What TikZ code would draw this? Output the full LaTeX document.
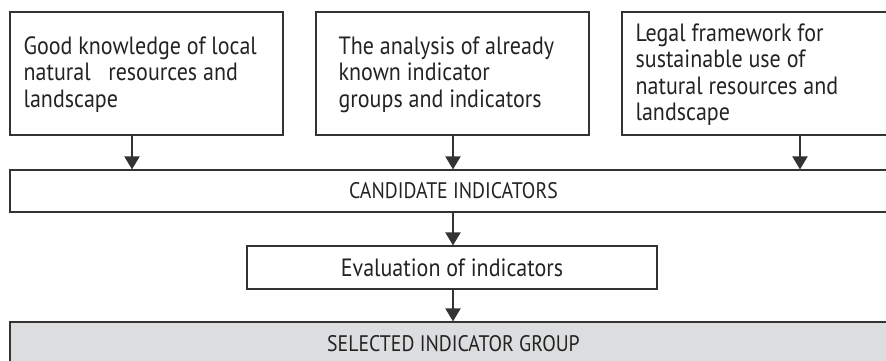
\documentclass[tikz,border=0pt]{standalone}
\usepackage{fontspec}
\setmainfont{PT Sans}[FakeStretch=0.88]
\usetikzlibrary{arrows.meta}
\definecolor{edge}{HTML}{333333}
\definecolor{ink}{HTML}{232323}
\definecolor{selfill}{HTML}{DCDDDF}
\tikzset{
  box/.style={draw=edge, line width=1.1pt, rectangle, inner sep=0pt},
  txt/.style={text=ink, align=left, inner sep=0pt, font=\fontsize{25}{26.4}\selectfont},
  captxt/.style={text=ink, inner sep=0pt, font=\fontsize{22.5}{24}\selectfont},
  arr/.style={draw=edge, line width=2pt, -{Triangle[length=13pt,width=15pt]}}
}
\begin{document}
\begin{tikzpicture}[x=1pt,y=1pt]
\useasboundingbox (0,0) rectangle (886,360);
% top boxes
\node[box, minimum width=273, minimum height=123] (b1) at (146.5,286.5) {};
\node[box, minimum width=273, minimum height=123] (b2) at (452.5,286.5) {};
\node[box, minimum width=280, minimum height=123] (b3) at (762,286.5) {};
\node[txt, anchor=west] (t1) at ([xshift=14,yshift=-1]b1.west) {Good knowledge of local\\natural\ \ \ resources and\\landscape};
\node[txt, anchor=west] (t2) at ([xshift=23,yshift=-1]b2.west) {The analysis of already\\known indicator\\groups and indicators};
\node[txt, anchor=west] (t3) at ([xshift=14,yshift=-1]b3.west) {Legal framework for\\sustainable use of\\natural resources and\\landscape};
% candidate
\node[box, minimum width=887, minimum height=42] (cand) at (453.5,169) {};
\node[captxt] (ct) at (cand.center) {CANDIDATE INDICATORS};
% evaluation
\node[box, minimum width=410, minimum height=43] (ev) at (452,92.5) {};
\node[txt] (et) at (ev.center) {Evaluation of indicators};
% selected
\node[box, fill=selfill, minimum width=887, minimum height=43] (sel) at (453.5,16.5) {};
\node[captxt] (st) at (sel.center) {SELECTED INDICATOR GROUP};
% arrows
\coordinate (xa) at (132,0);
\coordinate (xb) at (453,0);
\coordinate (xc) at (800,0);
\draw[arr] (b1.south -| xa) -- (cand.north -| xa);
\draw[arr] (b2.south -| xb) -- (cand.north -| xb);
\draw[arr] (b3.south -| xc) -- (cand.north -| xc);
\draw[arr] (cand.south -| xb) -- (ev.north -| xb);
\draw[arr] (ev.south -| xb) -- (sel.north -| xb);
\end{tikzpicture}
\end{document}
